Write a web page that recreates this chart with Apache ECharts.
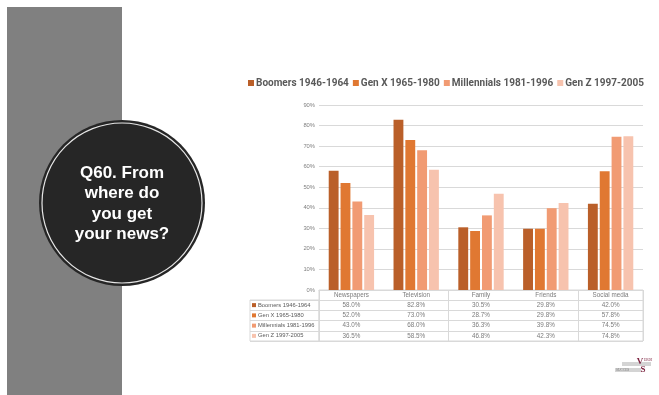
<!DOCTYPE html>
<html>
<head>
<meta charset="utf-8">
<script src="https://cdn.jsdelivr.net/npm/echarts@6/dist/echarts.min.js"></script>
<style>
  html, body { margin: 0; padding: 0; background: #ffffff; }
  #chart { width: 659px; height: 395px; }
</style>
</head>
<body>
<div id="chart"></div>
<script>
// Survey results: news sources by generation (percent of respondents)
const categories = ['Newspapers', 'Television', 'Family', 'Friends', 'Social media'];
const seriesNames = ['Boomers 1946-1964', 'Gen X 1965-1980', 'Millennials 1981-1996', 'Gen Z 1997-2005'];
const boomers = [58.0, 82.8, 30.5, 29.8, 42.0];
const genX = [52.0, 73.0, 28.7, 29.8, 57.8];
const millennials = [43.0, 68.0, 36.3, 39.8, 74.5];
const genZ = [36.5, 58.5, 46.8, 42.3, 74.8];
const yMin = 0, yMax = 90, yStep = 10;
const questionLines = ['Q60. From', 'where do', 'you get', 'your news?'];

const colors = ['#BA5F29', '#E07832', '#F19B73', '#F7C3AE'];
const allValues = [boomers, genX, millennials, genZ];

const textGrey = '#595959';
const lineGrey = '#d9d9d9';
const tableFont = 'Liberation Sans';

// data table cells: header row with category names, then one row per generation
const tableCells = categories.map((c, i) => ({ value: [i, 0], label: { formatter: c } }));
allValues.forEach((vals, r) => {
  vals.forEach((v, i) => {
    tableCells.push({ value: [i, r + 1], label: { formatter: v.toFixed(1) + '%' } });
  });
});

const nameRich = { t: { fontSize: 5.8, color: textGrey, fontFamily: tableFont, padding: [0, 0, 0, 2] } };
colors.forEach((c, i) => {
  nameRich['m' + i] = { backgroundColor: c, width: 4, height: 4 };
});

const chart = echarts.init(document.getElementById('chart'), null, { renderer: 'canvas' });

chart.setOption({
  backgroundColor: '#ffffff',
  animation: false,
  color: colors,
  legend: {
    data: seriesNames,
    left: 243,
    top: 73,
    width: 416,
    icon: 'rect',
    itemWidth: 6,
    itemHeight: 6,
    itemGap: 4,
    textStyle: { color: textGrey, fontSize: 10, fontWeight: 'bold', fontFamily: 'Roboto', padding: [0, 0, 0, -3] }
  },
  grid: [
    { left: 319, right: 16, top: 105, height: 185 },
    { left: 319, right: 16, top: 290, height: 51, show: true, borderColor: lineGrey, borderWidth: 1 },
    { left: 250, width: 69, top: 300, height: 41, show: true, borderColor: lineGrey, borderWidth: 1 }
  ],
  xAxis: [
    {
      gridIndex: 0, type: 'category', data: categories,
      axisLine: { show: true, lineStyle: { color: lineGrey } },
      axisTick: { show: false },
      axisLabel: { show: false }
    },
    {
      gridIndex: 1, type: 'category', data: categories,
      axisLine: { show: false }, axisTick: { show: false }, axisLabel: { show: false },
      splitLine: { show: true, lineStyle: { color: lineGrey, width: 1 } }
    },
    { gridIndex: 2, type: 'value', show: false, min: 0, max: 1 }
  ],
  yAxis: [
    {
      gridIndex: 0, type: 'value', min: yMin, max: yMax, interval: yStep,
      axisLine: { show: false }, axisTick: { show: false },
      axisLabel: { color: '#7f7f7f', fontSize: 5.8, fontFamily: tableFont, margin: 4, formatter: '{value}%' },
      splitLine: { lineStyle: { color: lineGrey, width: 1 } }
    },
    {
      gridIndex: 1, type: 'category', inverse: true, data: [''].concat(seriesNames),
      axisLine: { show: false }, axisTick: { show: false }, axisLabel: { show: false },
      splitLine: { show: true, interval: 0, lineStyle: { color: lineGrey, width: 1 } }
    },
    {
      gridIndex: 2, type: 'category', inverse: true, data: seriesNames,
      axisLine: { show: false }, axisTick: { show: false },
      axisLabel: {
        inside: true, margin: 2, align: 'left', interval: 0,
        formatter: (value, index) => '{m' + index + '|}{t|' + value + '}',
        rich: nameRich
      },
      splitLine: { show: true, interval: 0, lineStyle: { color: lineGrey, width: 1 } }
    }
  ],
  series: allValues.map((vals, i) => ({
    name: seriesNames[i],
    type: 'bar',
    xAxisIndex: 0,
    yAxisIndex: 0,
    data: vals,
    barGap: '20%',
    barCategoryGap: '30%',
    itemStyle: { color: colors[i] }
  })).concat([{
    type: 'scatter',
    xAxisIndex: 1,
    yAxisIndex: 1,
    symbol: 'rect',
    symbolSize: 1,
    itemStyle: { color: 'rgba(0,0,0,0)' },
    label: {
      show: true, position: 'inside',
      color: textGrey, fontSize: 6.3, fontFamily: tableFont
    },
    emphasis: { disabled: true },
    data: tableCells
  }]),
  graphic: [
    { type: 'rect', shape: { x: 7, y: 7, width: 115, height: 388 }, style: { fill: '#808080' } },
    { type: 'circle', shape: { cx: 122, cy: 203, r: 83 }, style: { fill: '#262626' } },
    { type: 'circle', shape: { cx: 122, cy: 203, r: 80 }, style: { fill: null, stroke: '#e6e6e6', lineWidth: 1.2 } },
    {
      type: 'text', x: 122, y: 204,
      style: {
        text: questionLines.join('\n'),
        fill: '#ffffff',
        fontSize: 17, fontWeight: 'bold', fontFamily: 'Liberation Sans',
        align: 'center', verticalAlign: 'middle', lineHeight: 20.5
      }
    },
    // company mark, bottom right
    { type: 'rect', shape: { x: 622, y: 362, width: 29, height: 4 }, style: { fill: '#d4d4d4' } },
    { type: 'rect', shape: { x: 615, y: 368, width: 26, height: 4 }, style: { fill: '#d4d4d4' } },
    { type: 'text', x: 644, y: 360, style: { text: 'ERDI', fill: '#7a1f3d', fontSize: 3.5, fontFamily: 'Liberation Serif', align: 'left', verticalAlign: 'middle' } },
    { type: 'text', x: 616, y: 370, style: { text: 'SUCCES', fill: '#7a7a7a', fontSize: 3.5, fontFamily: 'Liberation Serif', align: 'left', verticalAlign: 'middle' } },
    { type: 'text', x: 640, y: 362, style: { text: 'V', fill: '#7a1f3d', fontSize: 9, fontWeight: 'bold', fontFamily: 'Liberation Serif', align: 'center', verticalAlign: 'middle' } },
    { type: 'text', x: 643, y: 370, style: { text: 'S', fill: '#7a1f3d', fontSize: 9, fontWeight: 'bold', fontFamily: 'Liberation Serif', align: 'center', verticalAlign: 'middle' } }
  ]
});
</script>
</body>
</html>
